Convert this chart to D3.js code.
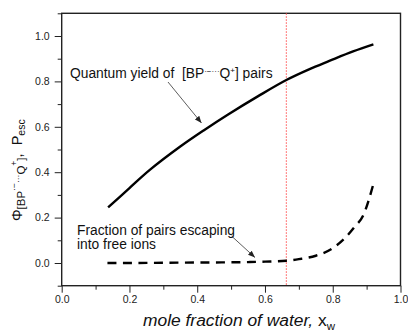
<!DOCTYPE html>
<html>
<head>
<meta charset="utf-8">
<script src="https://cdn.jsdelivr.net/npm/d3@7"></script>
<style>
  body { margin: 0; background: #fff; }
  svg { display: block; font-family: Arial, "Liberation Sans", sans-serif; }
  svg text { white-space: pre; }
  .axis path, .axis line { stroke: #222; }
  .axis text { fill: #222; font-size: 10.5px; }
</style>
</head>
<body>
<svg id="chart" width="408" height="331"></svg>
<script>
// quantum yield of [BP..Q] pairs (solid)
var yieldX = [0.137, 0.2, 0.26, 0.35, 0.42, 0.49, 0.58, 0.663, 0.73, 0.79, 0.86, 0.92];
var yieldY = [0.245, 0.33, 0.41, 0.513, 0.585, 0.653, 0.735, 0.806, 0.853, 0.89, 0.932, 0.963];

// fraction escaping into free ions (dashed)
var escX = [0.135, 0.2, 0.3, 0.4, 0.5, 0.55, 0.6, 0.663, 0.7, 0.75, 0.8, 0.84, 0.865, 0.89, 0.92];
var escY = [0, 0, 0.001, 0.002, 0.003, 0.004, 0.006, 0.01, 0.017, 0.032, 0.065, 0.116, 0.16, 0.21, 0.348];

var markerX = 0.663;
var xMajor = [0, 0.2, 0.4, 0.6, 0.8, 1.0];
var xMinor = [0.1, 0.3, 0.5, 0.7, 0.9];
var yMajor = [0, 0.2, 0.4, 0.6, 0.8, 1.0];
var yMinor = [-0.1, 0.1, 0.3, 0.5, 0.7, 0.9, 1.1];

var svg = d3.select('#chart');
var x = d3.scaleLinear().domain([0, 1]).range([61.7, 400.5]);
var y = d3.scaleLinear().domain([-0.1, 1.1]).range([285.7, 13.3]);
var fmt = d3.format('.1f');

// minor ticks first, then major ticks with labels
svg.append('g').attr('class', 'axis')
    .attr('transform', 'translate(0,' + y(-0.1) + ')')
    .call(d3.axisBottom(x).tickValues(xMinor).tickSize(4).tickFormat(''))
    .call(g => g.select('.domain').remove());
svg.append('g').attr('class', 'axis')
    .attr('transform', 'translate(0,' + y(-0.1) + ')')
    .call(d3.axisBottom(x).tickValues(xMajor).tickSize(7).tickPadding(3).tickFormat(fmt))
    .call(g => g.select('.domain').remove());

svg.append('g').attr('class', 'axis')
    .attr('transform', 'translate(' + x(0) + ',0)')
    .call(d3.axisLeft(y).tickValues(yMinor).tickSize(4).tickFormat(''))
    .call(g => g.select('.domain').remove());
svg.append('g').attr('class', 'axis')
    .attr('transform', 'translate(' + x(0) + ',0)')
    .call(d3.axisLeft(y).tickValues(yMajor).tickSize(7).tickPadding(5).tickFormat(fmt))
    .call(g => g.select('.domain').remove());

// frame
svg.append('rect')
    .attr('x', x(0)).attr('y', y(1.1))
    .attr('width', x(1) - x(0)).attr('height', y(-0.1) - y(1.1))
    .attr('fill', 'none').attr('stroke', '#222').attr('stroke-width', 1.4);

// red dotted marker
svg.append('line')
    .attr('x1', x(markerX)).attr('x2', x(markerX))
    .attr('y1', y(1.1)).attr('y2', y(-0.1))
    .attr('stroke', '#ff5050').attr('stroke-width', 1)
    .attr('stroke-dasharray', '1.5,1.5');

var line = d3.line().x(d => x(d[0])).y(d => y(d[1])).curve(d3.curveCatmullRom);

svg.append('path')
    .datum(d3.zip(yieldX, yieldY))
    .attr('d', line)
    .attr('fill', 'none').attr('stroke', '#000').attr('stroke-width', 2.4);

svg.append('path')
    .datum(d3.zip(escX, escY))
    .attr('d', line.curve(d3.curveMonotoneX))
    .attr('fill', 'none').attr('stroke', '#000').attr('stroke-width', 2.4)
    .attr('stroke-dasharray', '9,6.5');

// arrows
svg.append('defs').append('marker')
    .attr('id', 'arrow').attr('viewBox', '0 0 10 10')
    .attr('refX', 10).attr('refY', 5)
    .attr('markerWidth', 7).attr('markerHeight', 7)
    .attr('markerUnits', 'userSpaceOnUse')
    .attr('orient', 'auto')
    .append('path').attr('d', 'M0,1 L10,5 L0,9 Z').attr('fill', '#222');

svg.append('line')
    .attr('x1', 168).attr('y1', 82).attr('x2', 201.5).attr('y2', 123)
    .attr('stroke', '#333').attr('stroke-width', 0.8).attr('marker-end', 'url(#arrow)');
svg.append('line')
    .attr('x1', 231.5).attr('y1', 236).attr('x2', 255).attr('y2', 257.5)
    .attr('stroke', '#333').attr('stroke-width', 0.8).attr('marker-end', 'url(#arrow)');

// annotation texts
var t1 = svg.append('text').attr('x', 70).attr('y', 78).attr('font-size', 13.8).attr('fill', '#111');
t1.append('tspan').text('Quantum yield of  [BP');
t1.append('tspan').attr('font-size', 8).attr('dy', -4).text('·−');
t1.append('tspan').attr('font-size', 8).attr('dy', 0).text('···');
t1.append('tspan').attr('dy', 4).text('Q');
t1.append('tspan').attr('font-size', 8).attr('dy', -5).text('+');
t1.append('tspan').attr('dy', 5).text('] pairs');

svg.append('text').attr('x', 77).attr('y', 234.5).attr('font-size', 13.8).attr('fill', '#111')
    .text('Fraction of pairs escaping');
svg.append('text').attr('x', 77).attr('y', 248.5).attr('font-size', 13.8).attr('fill', '#111')
    .text('into free ions');

// x axis label
var xl = svg.append('text').attr('x', 143).attr('y', 326)
    .attr('font-size', 17.4).attr('font-style', 'italic').attr('fill', '#111');
xl.append('tspan').text('mole fraction of water, ');
xl.append('tspan').attr('font-style', 'normal').text('x');
xl.append('tspan').attr('font-style', 'normal').attr('font-size', 11.5).attr('dy', 4).text('w');

// y axis label
var yl = svg.append('text')
    .attr('transform', 'translate(22,221) rotate(-90)')
    .attr('font-size', 14.5).attr('fill', '#111');
yl.append('tspan').text('Φ');
yl.append('tspan').attr('font-size', 11.5).attr('dy', 3).text('[BP');
yl.append('tspan').attr('font-size', 8.5).attr('dy', -8).text('·−');
yl.append('tspan').attr('font-size', 8.5).attr('dy', 4).text('···');
yl.append('tspan').attr('font-size', 11.5).attr('dy', 4).text('Q');
yl.append('tspan').attr('font-size', 8.5).attr('dy', -8).text('+');
yl.append('tspan').attr('font-size', 11.5).attr('dy', 8).text(']');
yl.append('tspan').attr('dy', -3).text(',  P');
yl.append('tspan').attr('font-size', 10.5).attr('dy', 3).text('esc');
</script>
</body>
</html>
